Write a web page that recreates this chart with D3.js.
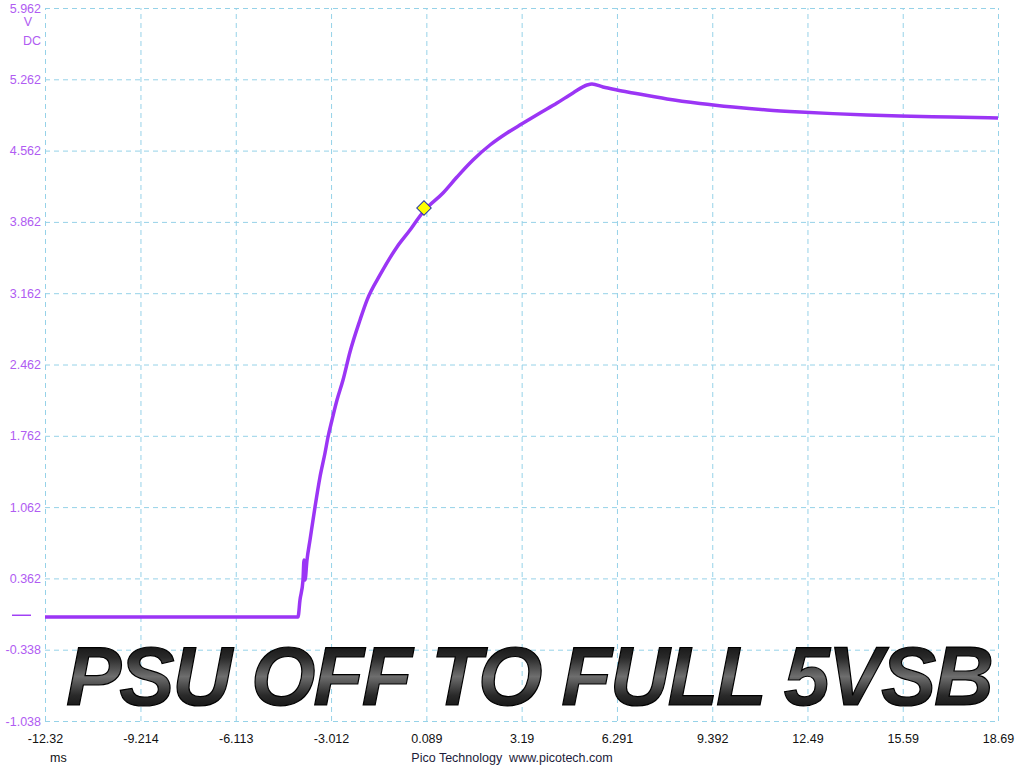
<!DOCTYPE html>
<html>
<head>
<meta charset="utf-8">
<script src="https://cdn.jsdelivr.net/npm/d3@7"></script>
<style>
  body { margin: 0; background: #fff; }
  .chart { width: 1024px; height: 768px; }
</style>
</head>
<body>
<div class="chart"></div>
<script>
// trace (time in ms, voltage in V DC)
var timeMs = [-12.32, -4.088, -4.023, -3.925, -3.892, -3.860, -3.795, -3.697, -3.534, -3.372,
  -3.209, -3.111, -2.981, -2.819, -2.623, -2.396, -2.070, -1.842, -1.419, -0.866,
  -0.443, -0.118, 0.012, 0.631, 1.086, 1.607, 2.160, 2.713, 3.201, 3.787,
  4.340, 4.861, 5.316, 5.479, 5.837, 6.292, 6.813, 7.919, 8.993, 10.067,
  11.173, 12.247, 13.321, 14.427, 15.501, 17.128, 18.69];
var voltV = [-0.017, -0.017, 0.150, 0.346, 0.543, 0.346, 0.543, 0.739, 1.063, 1.358,
  1.593, 1.750, 1.917, 2.113, 2.310, 2.585, 2.899, 3.095, 3.341, 3.616,
  3.782, 3.920, 3.969, 4.146, 4.303, 4.470, 4.617, 4.735, 4.825, 4.931,
  5.029, 5.128, 5.206, 5.216, 5.186, 5.157, 5.128, 5.069, 5.025, 4.990,
  4.961, 4.941, 4.925, 4.912, 4.902, 4.892, 4.882];

var xTickLabels = ["-12.32", "-9.214", "-6.113", "-3.012", "0.089", "3.19", "6.291", "9.392", "12.49", "15.59", "18.69"];
var yTickLabels = ["-1.038", "-0.338", "0.362", "1.062", "1.762", "2.462", "3.162", "3.862", "4.562", "5.262", "5.962"];

var markerT = 0.012, markerV = 3.998;
var title = "PSU OFF TO FULL 5VSB";

var width = 1024, height = 768;
var plotLeft = 45, plotRight = 998, plotTop = 8, plotBottom = 721;

var svg = d3.select(".chart")
  .append("svg")
  .attr("width", width)
  .attr("height", height)
  .style("font-family", "'Liberation Sans', Arial, sans-serif");

var x = d3.scaleLinear().domain([-12.32, 18.69]).range([plotLeft, plotRight]);
var y = d3.scaleLinear().domain([-1.038, 5.962]).range([plotBottom, plotTop]);

var gridColor = "#96d2e8";
var labelPurple = "#b05cf2";

// metallic gradient for the title
var defs = svg.append("defs");
var grad = defs.append("linearGradient")
  .attr("id", "metal").attr("x1", 0).attr("y1", 0).attr("x2", 0).attr("y2", 1);
grad.append("stop").attr("offset", "0%").attr("stop-color", "#000");
grad.append("stop").attr("offset", "30%").attr("stop-color", "#2a2a2a");
grad.append("stop").attr("offset", "50%").attr("stop-color", "#6e6e6e");
grad.append("stop").attr("offset", "70%").attr("stop-color", "#2a2a2a");
grad.append("stop").attr("offset", "100%").attr("stop-color", "#000");

// x axis + vertical grid
var xAxis = svg.append("g")
  .attr("transform", "translate(0," + plotBottom + ")")
  .call(d3.axisBottom(x)
    .tickValues(xTickLabels.map(Number))
    .tickFormat(function (d, i) { return xTickLabels[i]; })
    .tickSize(-(plotBottom - plotTop))
    .tickPadding(13));
xAxis.select(".domain").remove();
xAxis.selectAll("line")
  .attr("stroke", gridColor)
  .attr("stroke-dasharray", "5,4");
xAxis.selectAll("text")
  .attr("fill", "#111")
  .style("font-size", "12.5px");

// y axis + horizontal grid
var yAxis = svg.append("g")
  .attr("transform", "translate(" + plotLeft + ",0)")
  .call(d3.axisLeft(y)
    .tickValues(yTickLabels.map(Number))
    .tickFormat(function (d, i) { return yTickLabels[i]; })
    .tickSize(-(plotRight - plotLeft))
    .tickPadding(4));
yAxis.select(".domain").remove();
yAxis.selectAll("line")
  .attr("stroke", gridColor)
  .attr("stroke-dasharray", "5,4");
yAxis.selectAll("text")
  .attr("fill", labelPurple)
  .style("font-size", "12.5px");

// units under the top label
svg.append("text").attr("x", 28).attr("y", 26).attr("text-anchor", "middle")
  .attr("fill", labelPurple).style("font-size", "12.5px").text("V");
svg.append("text").attr("x", 41).attr("y", 45).attr("text-anchor", "end")
  .attr("fill", labelPurple).style("font-size", "12.5px").text("DC");

// zero level marker on the left
svg.append("line")
  .attr("x1", 12).attr("x2", 31)
  .attr("y1", y(0)).attr("y2", y(0))
  .attr("stroke", "#a040f5").attr("stroke-width", 1.5);

// big title (drawn under the trace)
svg.append("text")
  .attr("x", 66).attr("y", 705)
  .attr("textLength", 928)
  .attr("lengthAdjust", "spacing")
  .style("font-size", "83px")
  .style("font-weight", "bold")
  .style("font-style", "italic")
  .attr("fill", "url(#metal)")
  .attr("stroke", "#000")
  .attr("stroke-width", 1.2)
  .text(title);

// trace
var pts = timeMs.map(function (t, i) { return [t, voltV[i]]; });
var line = d3.line()
  .curve(d3.curveMonotoneX)
  .x(function (d) { return x(d[0]); })
  .y(function (d) { return y(d[1]); });

svg.append("path")
  .datum(pts)
  .attr("d", line)
  .attr("fill", "none")
  .attr("stroke", "#9b35f5")
  .attr("stroke-width", 3.5)
  .attr("stroke-linejoin", "round");

// trigger marker
svg.append("path")
  .attr("d", d3.symbol().type(d3.symbolSquare).size(105)())
  .attr("transform", "translate(" + x(markerT) + "," + y(markerV) + ") rotate(45)")
  .attr("fill", "#ffff00")
  .attr("stroke", "#2a3aa0")
  .attr("stroke-width", 1);

// footer
svg.append("text").attr("x", 50).attr("y", 762)
  .attr("fill", "#111").style("font-size", "12.5px").text("ms");
svg.append("text").attr("x", 512).attr("y", 762).attr("text-anchor", "middle")
  .attr("fill", "#1c1c3a").style("font-size", "12.5px")
  .style("white-space", "pre")
  .text("Pico Technology  www.picotech.com");
</script>
</body>
</html>
